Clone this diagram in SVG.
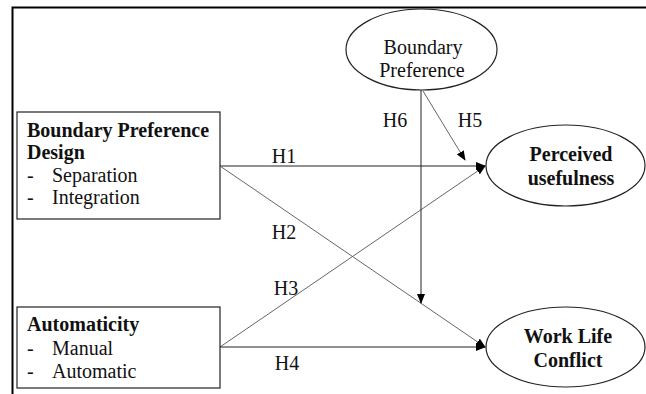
<svg xmlns="http://www.w3.org/2000/svg" width="646" height="394" viewBox="0 0 646 394">
<defs>
<marker id="arr" markerWidth="10" markerHeight="8" refX="9" refY="4" orient="auto" markerUnits="userSpaceOnUse">
<path d="M0,0 L10,4 L0,8 Z" fill="#000"/>
</marker>
<style>
text{font-family:"Liberation Serif","Times New Roman",serif;font-size:20px;fill:#111}
.b{font-weight:bold}
.m{text-anchor:middle}
.node{fill:#fff;stroke:#222;stroke-width:1.2}
.dk{stroke:#222;stroke-width:1;fill:none}
.gr{stroke:#666;stroke-width:1;fill:none}
</style>
</defs>
<rect width="646" height="394" fill="#fff"/>
<path d="M12.5,394 V7.5 H646" fill="none" stroke="#000" stroke-width="2"/>
<g id="connectors">
<line class="dk" x1="220" y1="166" x2="485" y2="166" marker-end="url(#arr)"/>
<line class="gr" x1="220" y1="166" x2="485" y2="347" marker-end="url(#arr)"/>
<line class="gr" x1="220" y1="347" x2="485" y2="166" marker-end="url(#arr)"/>
<line class="dk" x1="220" y1="347" x2="485" y2="347" marker-end="url(#arr)"/>
<line class="dk" x1="421" y1="90" x2="421" y2="303" marker-end="url(#arr)"/>
<line class="gr" x1="423" y1="91" x2="465" y2="160" marker-end="url(#arr)"/>
<text x="284" y="163" class="m">H1</text>
<text x="284" y="239" class="m">H2</text>
<text x="286" y="295" class="m">H3</text>
<text x="287" y="370" class="m">H4</text>
<text x="470" y="127" class="m">H5</text>
<text x="395" y="127" class="m">H6</text>
</g>
<g id="boundary-preference">
<ellipse class="node" cx="421.5" cy="49.5" rx="75.5" ry="40.5"/>
<text x="423" y="54" class="m">Boundary</text>
<text x="422" y="77" class="m">Preference</text>
</g>
<g id="bp-design">
<rect class="node" x="17" y="112" width="203" height="107"/>
<text x="27" y="137" class="b">Boundary Preference</text>
<text x="27" y="159" class="b">Design</text>
<text x="27" y="182">-</text>
<text x="52" y="182">Separation</text>
<text x="27" y="204">-</text>
<text x="52" y="204">Integration</text>
</g>
<g id="automaticity">
<rect class="node" x="17" y="307" width="203" height="81"/>
<text x="27" y="331" class="b">Automaticity</text>
<text x="27" y="355">-</text>
<text x="52" y="355">Manual</text>
<text x="27" y="378">-</text>
<text x="52" y="378">Automatic</text>
</g>
<g id="perceived-usefulness">
<ellipse class="node" cx="565.5" cy="165.5" rx="79.5" ry="40.5"/>
<text x="571" y="161" class="m b">Perceived</text>
<text x="571" y="185" class="m b">usefulness</text>
</g>
<g id="work-life-conflict">
<ellipse class="node" cx="565.5" cy="347" rx="79.5" ry="40"/>
<text x="568" y="343" class="m b">Work Life</text>
<text x="568" y="367" class="m b">Conflict</text>
</g>
</svg>
